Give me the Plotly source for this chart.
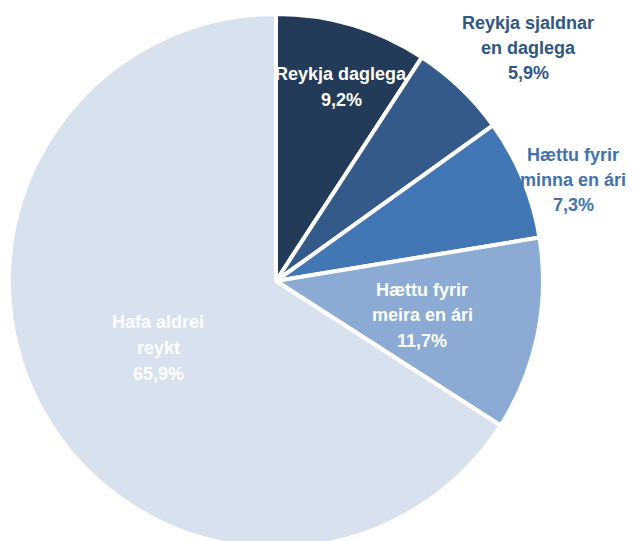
import plotly.graph_objects as go

labels = ["Reykja daglega", "Reykja sjaldnar en daglega", "Hættu fyrir minna en ári",
          "Hættu fyrir meira en ári", "Hafa aldrei reykt"]
label_lines = [["Reykja daglega"], ["Reykja sjaldnar", "en daglega"], ["Hættu fyrir", "minna en ári"],
               ["Hættu fyrir", "meira en ári"], ["Hafa aldrei", "reykt"]]
values = [9.2, 5.9, 7.3, 11.7, 65.9]
colors = ["#243A59", "#335A89", "#4376B4", "#8BABD4", "#D7E2EE"]
text_colors = ["#FFFFFF", "#2F5685", "#4272AE", "#FFFFFF", "#FFFFFF"]
# label block positions in pixels (x centre, y of first line's centre)
label_px = [(341, 74), (528, 22.5), (573, 154.5), (422, 289.5), (158, 322.5)]
LINE = 25.5
OFF = 8  # page body margin

W, H = 627, 541
cx, cy, r = 268, 273, 267

fig = go.Figure(go.Pie(
    labels=labels, values=values, sort=False, direction="clockwise", rotation=0,
    marker=dict(colors=colors, line=dict(color="white", width=4)),
    textinfo="none", hoverinfo="label+percent", showlegend=False,
    domain=dict(x=[(cx - r) / W, (cx + r) / W], y=[(H - cy - r) / H, (H - cy + r) / H]),
))

for lines, v, col, (px, py) in zip(label_lines, values, text_colors, label_px):
    all_lines = lines + [f"{str(v).replace('.', ',')}%"]
    for i, t in enumerate(all_lines):
        yy = py + i * LINE - OFF
        fig.add_annotation(
            x=(px - OFF) / W, y=(H - yy) / H, xref="paper", yref="paper", showarrow=False,
            xanchor="center", yanchor="middle",
            text=f"<b>{t}</b>",
            font=dict(family="Liberation Sans, Arial", size=18, color=col),
        )

fig.update_layout(width=W, height=H, margin=dict(l=0, r=0, t=0, b=0),
                  paper_bgcolor="white", plot_bgcolor="white")
fig.write_html("out.html")
